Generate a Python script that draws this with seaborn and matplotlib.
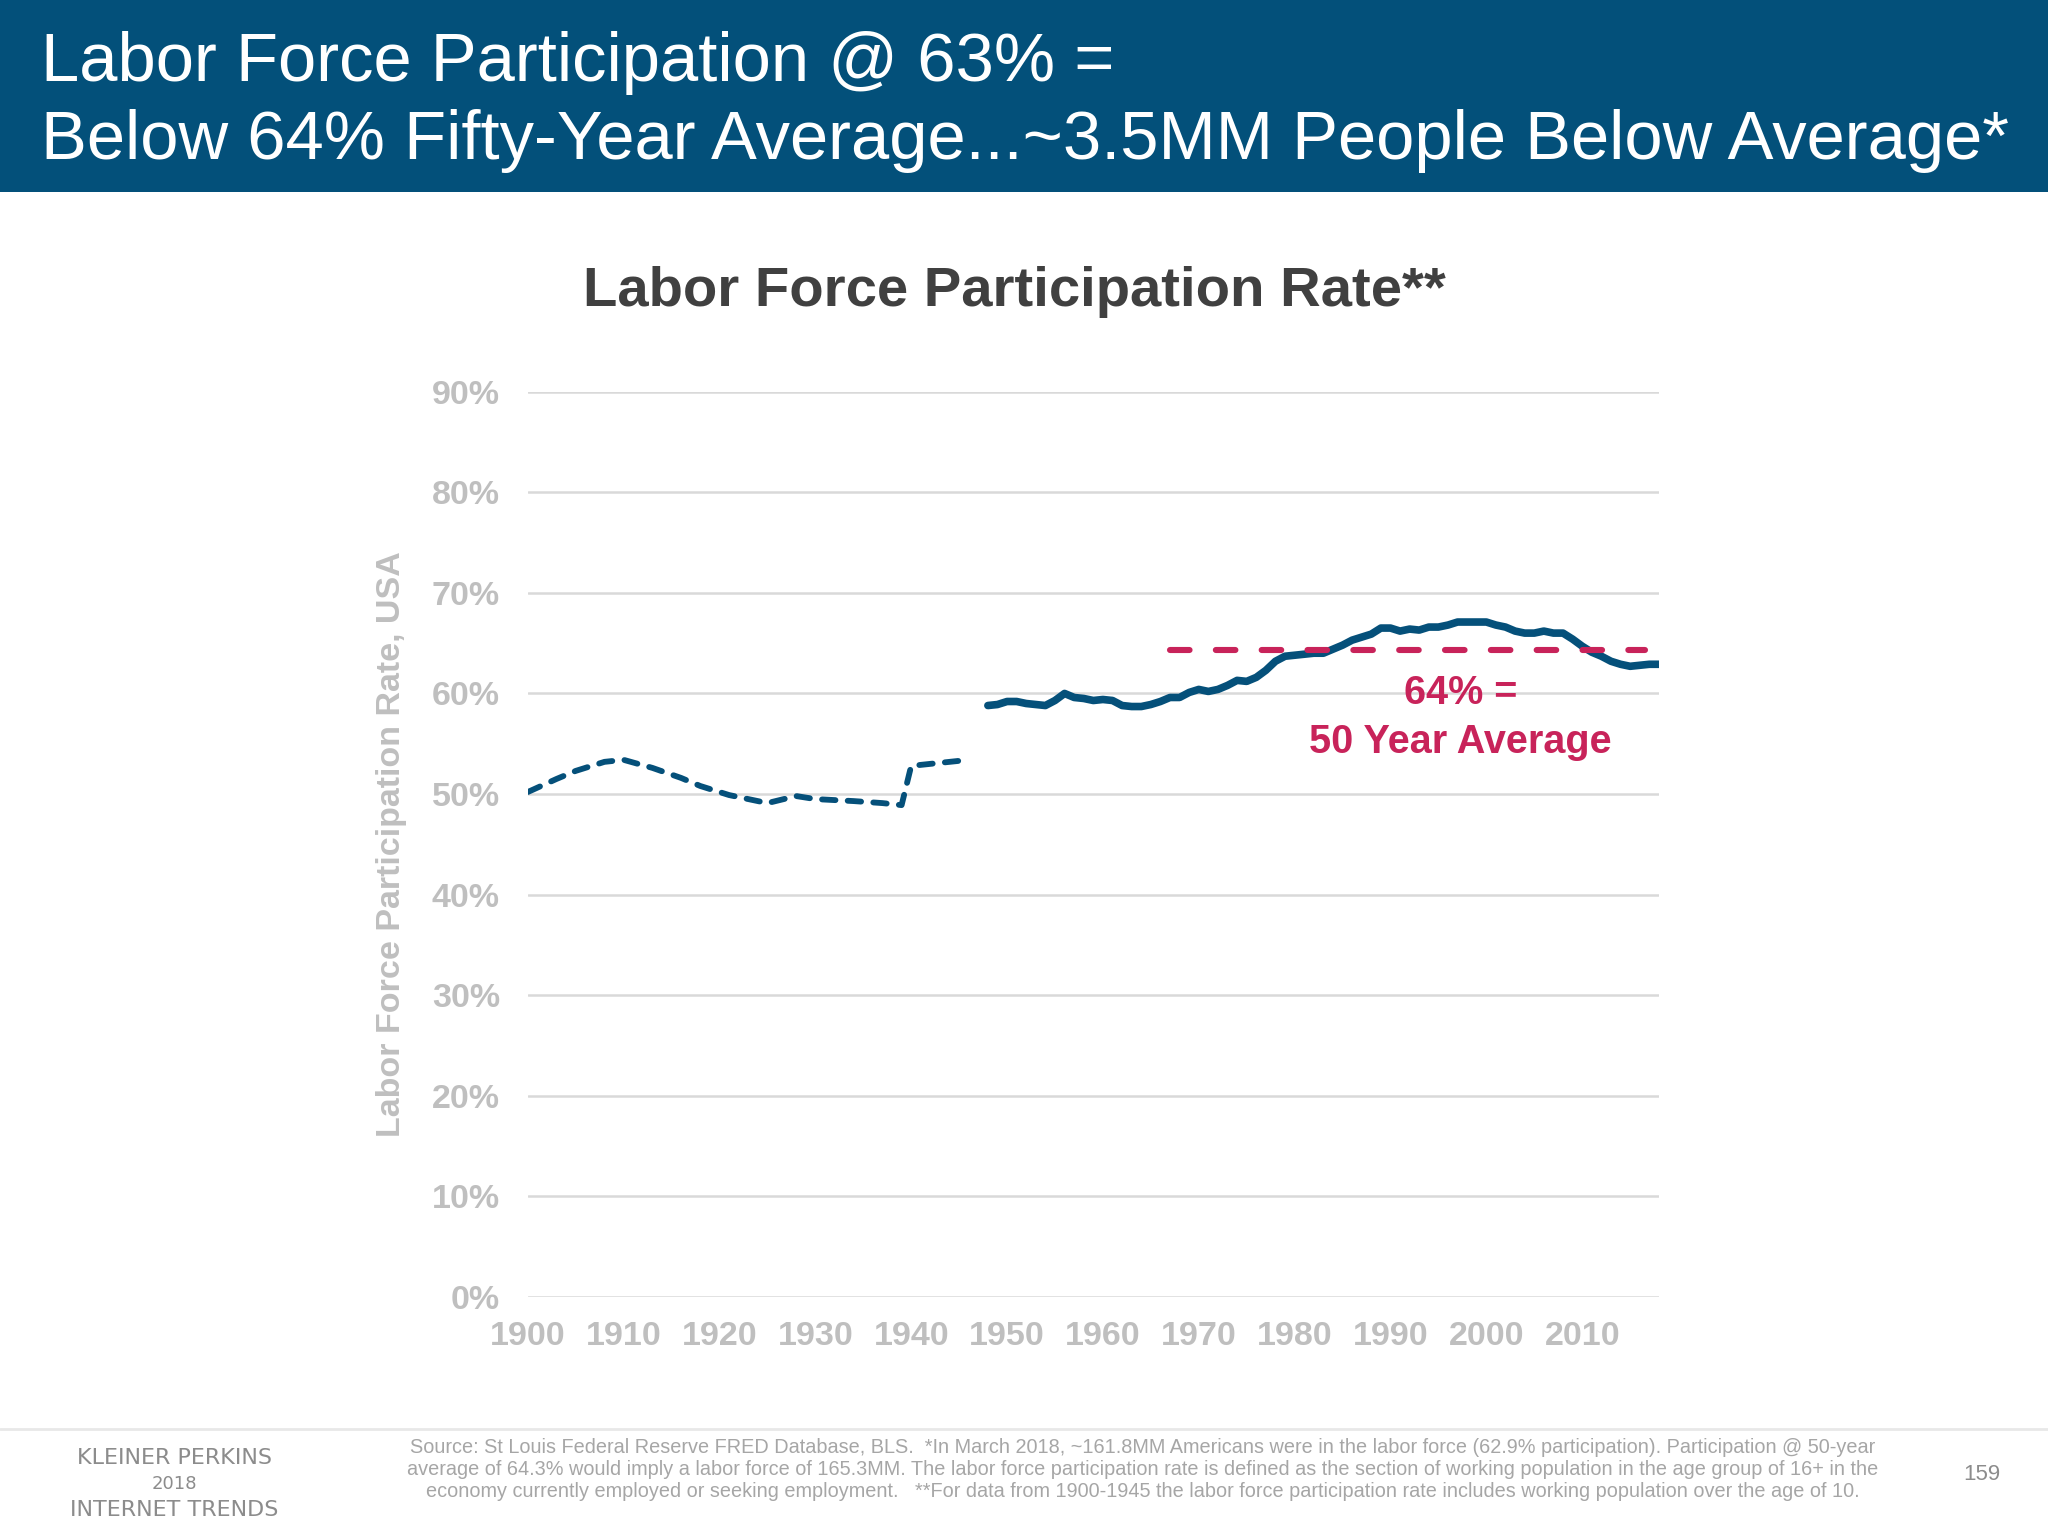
import numpy as np
import pandas as pd
import matplotlib
matplotlib.use('Agg')
import matplotlib.pyplot as plt
import seaborn as sns

# Labor force participation rate, USA (%)
# 1900-1945: working population over age 10 (dashed)
early_years = [1900, 1903, 1905, 1908, 1910, 1913, 1916, 1918, 1921, 1923,
               1925, 1928, 1930, 1934, 1937, 1939, 1940, 1942, 1945]
early_rate = [50.2, 51.5, 52.3, 53.2, 53.4, 52.6, 51.6, 50.8, 49.9, 49.5,
              49.1, 49.8, 49.5, 49.3, 49.1, 48.9, 52.8, 53.0, 53.3]

# 1948-2018: age 16+ (solid)
modern_years = list(range(1948, 2019))
modern_rate = [58.8, 58.9, 59.2, 59.2, 59.0, 58.9, 58.8, 59.3, 60.0, 59.6,
               59.5, 59.3, 59.4, 59.3, 58.8, 58.7, 58.7, 58.9, 59.2, 59.6,
               59.6, 60.1, 60.4, 60.2, 60.4, 60.8, 61.3, 61.2, 61.6, 62.3,
               63.2, 63.7, 63.8, 63.9, 64.0, 64.0, 64.4, 64.8, 65.3, 65.6,
               65.9, 66.5, 66.5, 66.2, 66.4, 66.3, 66.6, 66.6, 66.8, 67.1,
               67.1, 67.1, 67.1, 66.8, 66.6, 66.2, 66.0, 66.0, 66.2, 66.0,
               66.0, 65.4, 64.7, 64.1, 63.7, 63.2, 62.9, 62.7, 62.8, 62.9,
               62.9]

# 50 year average
avg_years = [1967, 2016.5]
avg_rate = [64.3, 64.3]

x_ticks = list(range(1900, 2011, 10))
y_ticks = list(range(0, 91, 10))

early = pd.DataFrame({'year': early_years, 'rate': early_rate})
modern = pd.DataFrame({'year': modern_years, 'rate': modern_rate})
avg = pd.DataFrame({'year': avg_years, 'rate': avg_rate})

sns.set_theme(style='white')
plt.rcParams['font.family'] = ['Liberation Sans', 'DejaVu Sans']

blue = '#05507a'
red = '#c8235a'
tick_gray = '#bfbfbf'

fig = plt.figure(figsize=(20.48, 15.36), dpi=100)
fig.patch.set_facecolor('white')

# header band
fig.patches.append(plt.Rectangle((0, 0.875), 1, 0.125, transform=fig.transFigure,
                                 facecolor='#03507a', edgecolor='none', zorder=0))
fig.text(0.02, 0.959, 'Labor Force Participation @ 63% =', color='white',
         fontsize=49.5, va='center', ha='left')
fig.text(0.02, 0.908, 'Below 64% Fifty-Year Average...~3.5MM People Below Average*',
         color='white', fontsize=49.5, va='center', ha='left')

ax = fig.add_axes([0.2577, 0.1556, 0.5523, 0.5894])

sns.lineplot(data=early, x='year', y='rate', ax=ax, color=blue, linewidth=4.2,
             linestyle=(0, (2.3, 2.1)), dash_capstyle='round', zorder=3)
sns.lineplot(data=modern, x='year', y='rate', ax=ax, color=blue, linewidth=5.5,
             zorder=3)
sns.lineplot(data=avg, x='year', y='rate', ax=ax, color=red, linewidth=4.4,
             linestyle=(0, (3.2, 4.3)), dash_capstyle='round', zorder=4)

ax.text(1997.3, 60.0, '64% =', color=red, fontsize=28.5, fontweight='bold',
        ha='center', va='center')
ax.text(1997.3, 55.2, '50 Year Average', color=red, fontsize=28.5, fontweight='bold',
        ha='center', va='center')

ax.set_xlim(1900, 2018)
ax.set_ylim(0, 90)
ax.set_xticks(x_ticks)
ax.set_yticks(y_ticks)
ax.set_yticklabels([f'{v}%' for v in y_ticks])
ax.yaxis.grid(True, color='#d9d9d9', linewidth=1.8)
ax.xaxis.grid(False)
for s in ax.spines.values():
    s.set_visible(False)
ax.tick_params(axis='both', length=0, labelsize=24.5, labelcolor=tick_gray)
ax.tick_params(axis='y', pad=20)
ax.tick_params(axis='x', pad=17)
for lab in ax.get_xticklabels() + ax.get_yticklabels():
    lab.set_fontweight('bold')
ax.set_xlabel('')
ax.set_ylabel('Labor Force Participation Rate, USA', fontsize=24.5, fontweight='bold',
              color=tick_gray, labelpad=18)

fig.text(0.4955, 0.810, 'Labor Force Participation Rate**', fontsize=40.5,
         fontweight='bold', color='#404040', ha='center', va='center')

# footer
fig.add_artist(plt.Line2D([0, 1], [0.0695, 0.0695], transform=fig.transFigure,
                          color='#e8e8e8', linewidth=2))
fig.text(0.085, 0.051, 'KLEINER PERKINS', fontsize=16, color='#8c8c8c',
         ha='center', va='center', family=['DejaVu Sans'])
fig.text(0.085, 0.034, '2018', fontsize=13, color='#8c8c8c',
         ha='center', va='center', family=['DejaVu Sans'])
fig.text(0.085, 0.017, 'INTERNET TRENDS', fontsize=16, color='#8c8c8c',
         ha='center', va='center', family=['DejaVu Sans'])

source = ('Source: St Louis Federal Reserve FRED Database, BLS.  *In March 2018, ~161.8MM Americans were in the labor force (62.9% participation). Participation @ 50-year\n'
          'average of 64.3% would imply a labor force of 165.3MM. The labor force participation rate is defined as the section of working population in the age group of 16+ in the\n'
          'economy currently employed or seeking employment.   **For data from 1900-1945 the labor force participation rate includes working population over the age of 10.')
fig.text(0.558, 0.0434, source, fontsize=14.3, color='#a6a6a6', ha='center', va='center',
         linespacing=1.2, family=['Liberation Sans'])
fig.text(0.9675, 0.040, '159', fontsize=16, color='#8c8c8c', ha='center', va='center')

fig.savefig('out.png', dpi=100, facecolor='white')
